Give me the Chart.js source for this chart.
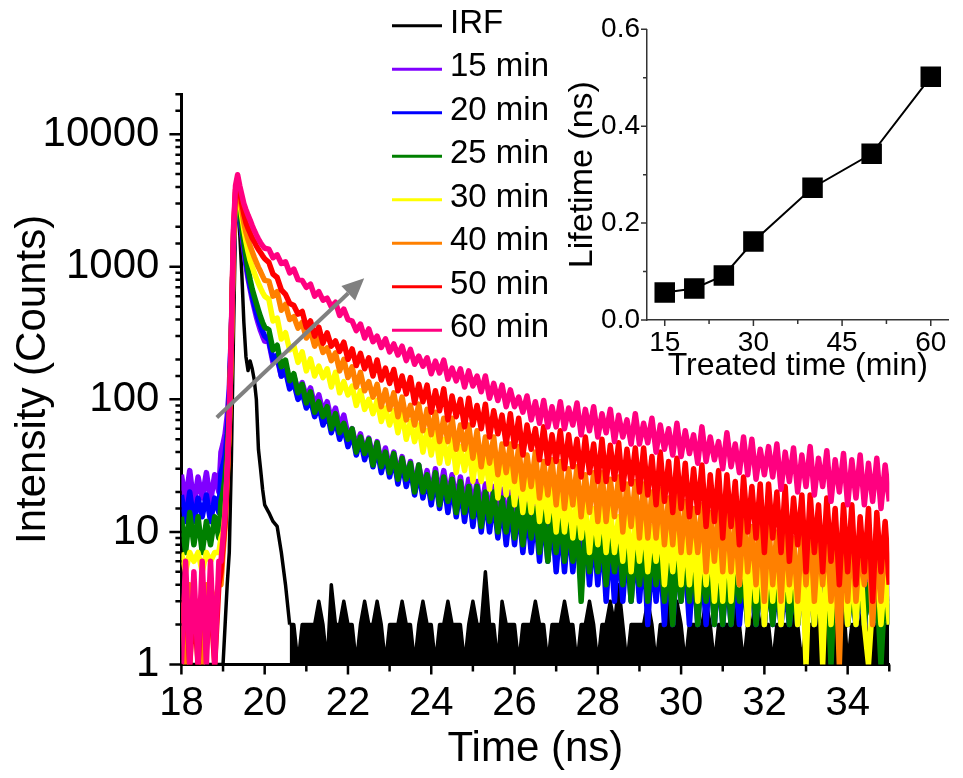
<!DOCTYPE html>
<html>
<head>
<meta charset="utf-8">
<title>Fluorescence decay</title>
<script src="https://cdn.jsdelivr.net/npm/chart.js@4.4.1/dist/chart.umd.min.js"></script>
<style>
    html, body { margin: 0; padding: 0; background: #fff; }
    #wrap { position: relative; width: 963px; height: 778px; }
    #mainChart { position: absolute; left: 0; top: 0; }
    #insetChart { position: absolute; left: 560px; top: 0; }
</style>
</head>
<body>
<div id="wrap">
    <canvas id="mainChart" width="963" height="778"></canvas>
    <canvas id="insetChart" width="403" height="390"></canvas>
</div>
<script>
// ====== Data ======
const timeNs = [
    18.0, 18.1, 18.2, 18.3, 18.4, 18.5, 18.6, 18.7, 18.8, 18.9,
    18.95, 19.0, 19.05, 19.1, 19.15, 19.2, 19.25, 19.3, 19.35, 19.4, 19.45,
    19.5, 19.55, 19.6, 19.65, 19.7, 19.75, 19.8, 19.85, 19.9, 19.95, 20.0,
    20.1, 20.2, 20.3, 20.4, 20.5, 20.6, 20.7, 20.8, 20.9, 21.0,
    21.1, 21.2, 21.3, 21.4, 21.5, 21.6, 21.7, 21.8, 21.9, 22.0,
    22.1, 22.2, 22.3, 22.4, 22.5, 22.6, 22.7, 22.8, 22.9, 23.0,
    23.1, 23.2, 23.3, 23.4, 23.5, 23.6, 23.7, 23.8, 23.9, 24.0,
    24.1, 24.2, 24.3, 24.4, 24.5, 24.6, 24.7, 24.8, 24.9, 25.0,
    25.1, 25.2, 25.3, 25.4, 25.5, 25.6, 25.7, 25.8, 25.9, 26.0,
    26.1, 26.2, 26.3, 26.4, 26.5, 26.6, 26.7, 26.8, 26.9, 27.0,
    27.1, 27.2, 27.3, 27.4, 27.5, 27.6, 27.7, 27.8, 27.9, 28.0,
    28.1, 28.2, 28.3, 28.4, 28.5, 28.6, 28.7, 28.8, 28.9, 29.0,
    29.1, 29.2, 29.3, 29.4, 29.5, 29.6, 29.7, 29.8, 29.9, 30.0,
    30.1, 30.2, 30.3, 30.4, 30.5, 30.6, 30.7, 30.8, 30.9, 31.0,
    31.1, 31.2, 31.3, 31.4, 31.5, 31.6, 31.7, 31.8, 31.9, 32.0,
    32.1, 32.2, 32.3, 32.4, 32.5, 32.6, 32.7, 32.8, 32.9, 33.0,
    33.1, 33.2, 33.3, 33.4, 33.5, 33.6, 33.7, 33.8, 33.9, 34.0,
    34.1, 34.2, 34.3, 34.4, 34.5, 34.6, 34.7, 34.8, 34.9, 35.0
];

// counts per channel (detector floor drawn at 1)
const irf = [
    1, 1, 1, 1, 1, 1, 1, 1, 1, 1,
    1, 1, 2, 4, 7, 35, 300, 2200, 3450, 1800, 900,
    380, 210, 165, 195, 170, 140, 100, 42, 30, 21, 16,
    14, 12, 11, 7, 4, 2, 2, 1, 2, 2,
    2, 2, 3, 2, 1, 4, 2, 2, 3, 2,
    2, 1, 2, 3, 2, 2, 3, 2, 1, 2,
    2, 2, 3, 2, 2, 1, 2, 3, 2, 2,
    1, 2, 2, 3, 2, 2, 2, 1, 2, 3,
    2, 2, 5, 2, 2, 1, 3, 2, 2, 2,
    1, 2, 2, 2, 3, 2, 2, 1, 2, 2,
    2, 3, 2, 2, 1, 2, 2, 3, 2, 1,
    2, 2, 3, 2, 4, 2, 1, 2, 2, 2,
    2, 3, 2, 1, 2, 2, 4, 2, 3, 2,
    1, 2, 2, 2, 2, 3, 2, 1, 2, 2,
    2, 2, 3, 2, 1, 2, 2, 3, 2, 2,
    2, 1, 2, 2, 2, 2, 3, 2, 1, 2,
    2, 2, 3, 1, 2, 2, 2, 2, 3, 1,
    2, 2, 2, 3, 1, 2, 2, 2, 2, 2
];

const min15 = [
    27, 17, 29, 16, 26, 18, 28, 17, 27, 20,
    40, 46, 55, 75, 120, 330, 1400, 3000, 3300, 2500, 1800,
    1350, 1020, 820, 680, 570, 490, 420, 370, 330, 300, 275,
    270, 190, 205, 150, 170, 126, 150, 116, 134, 104,
    122, 90, 108, 80, 96, 70, 86, 62, 76, 54,
    60, 44, 55, 40, 51, 36, 48, 33, 43, 30,
    40, 27, 37, 25, 34, 22, 32, 21, 29, 19,
    30, 19, 29, 18, 27, 17, 26, 16, 25, 15,
    24, 14, 23, 13, 22, 12, 21, 12, 20, 11,
    19, 10, 18, 10, 17, 9, 17, 9, 16, 8,
    15, 8, 14, 7, 14, 7, 13, 6, 13, 6,
    12, 5, 12, 5, 11, 5, 11, 5, 10, 4,
    10, 4, 9, 4, 9, 4, 9, 3, 8, 3,
    8, 3, 8, 3, 8, 3, 7, 3, 7, 3,
    7, 3, 7, 3, 7, 3, 6, 3, 6, 3,
    6, 3, 6, 3, 6, 3, 6, 3, 6, 3,
    6, 3, 6, 3, 5, 3, 5, 3, 5, 3,
    5, 3, 5, 3, 5, 3, 5, 3, 5, 3
];

const min20 = [
    19, 12, 20, 12, 18, 13, 19, 12, 18, 14,
    28, 32, 38, 55, 100, 320, 1450, 3100, 3400, 2600, 1900,
    1450, 1100, 880, 720, 610, 520, 450, 400, 360, 325, 300,
    280, 200, 215, 150, 165, 120, 134, 100, 114, 86,
    100, 74, 90, 64, 80, 56, 70, 50, 62, 44,
    56, 38, 50, 35, 46, 31, 43, 28, 38, 26,
    36, 23, 34, 22, 31, 19, 29, 18, 26, 16,
    26, 15, 25, 14, 23, 13, 22, 12, 21, 11,
    20, 10, 19, 10, 18, 9, 17, 8, 16, 8,
    16, 7, 15, 7, 14, 6, 14, 6, 13, 5,
    12, 5, 12, 5, 11, 4, 11, 4, 10, 4,
    10, 3, 9, 3, 9, 3, 8, 3, 8, 3,
    8, 2, 7, 3, 7, 2, 7, 2, 6, 4,
    6, 2, 6, 2, 6, 2, 6, 2, 5, 2,
    5, 2, 5, 2, 5, 2, 5, 2, 5, 2,
    5, 2, 4, 2, 4, 2, 4, 2, 4, 2,
    4, 2, 4, 2, 4, 2, 4, 2, 4, 2,
    4, 2, 4, 2, 4, 2, 4, 2, 4, 2
];

const min25 = [
    13, 7, 14, 8, 13, 7, 12, 8, 13, 9,
    17, 20, 26, 40, 80, 290, 1500, 3200, 3500, 2700, 2000,
    1550, 1200, 960, 800, 680, 600, 530, 470, 420, 380, 350,
    335, 236, 256, 176, 198, 138, 156, 112, 130, 94,
    114, 80, 96, 74, 88, 60, 78, 56, 66, 50,
    60, 40, 52, 39, 50, 32, 47, 31, 40, 28,
    39, 25, 36, 25, 33, 20, 32, 20, 27, 18,
    28, 16, 26, 17, 25, 14, 24, 14, 22, 13,
    22, 11, 20, 12, 20, 10, 18, 10, 18, 9,
    17, 8, 16, 9, 15, 7, 15, 6, 14, 7,
    13, 6, 12, 6, 12, 3, 11, 5, 10, 5,
    10, 4, 10, 5, 9, 4, 9, 3, 8, 4,
    8, 3, 8, 4, 7, 3, 7, 2, 7, 3,
    7, 3, 7, 2, 6, 3, 6, 2, 6, 2,
    6, 2, 6, 3, 5, 2, 6, 2, 5, 2,
    5, 2, 5, 2, 6, 2, 4, 2, 5, 2,
    5, 2, 4, 2, 5, 1, 5, 2, 4, 2,
    4, 2, 5, 2, 4, 2, 4, 1, 4, 2
];

const min30 = [
    7, 5, 7, 6, 7, 5, 7, 6, 7, 7,
    9, 10, 14, 28, 65, 270, 1600, 3400, 3900, 3100, 2400,
    1900, 1550, 1300, 1120, 1000, 900, 820, 750, 690, 640, 600,
    570, 390, 410, 285, 318, 236, 254, 190, 228, 164,
    202, 150, 178, 146, 170, 124, 160, 112, 136, 108,
    126, 90, 116, 84, 100, 78, 98, 68, 86, 64,
    82, 56, 78, 50, 68, 48, 64, 40, 58, 38,
    56, 33, 50, 33, 50, 28, 44, 29, 45, 24,
    42, 24, 38, 21, 38, 18, 34, 19, 32, 16,
    30, 14, 26, 14, 26, 12, 23, 12, 22, 10,
    21, 10, 19, 9, 18, 9, 17, 7, 15, 8,
    16, 7, 15, 7, 13, 6, 14, 5, 13, 6,
    13, 5, 11, 6, 12, 4, 10, 5, 11, 4,
    10, 4, 10, 3, 9, 4, 9, 3, 8, 3,
    10, 3, 9, 4, 9, 2, 8, 3, 9, 2,
    8, 3, 8, 2, 7, 3, 8, 2, 7, 1,
    7, 2, 6, 1, 7, 2, 6, 3, 6, 2,
    6, 2, 7, 2, 1, 3, 6, 2, 5, 2
];

const min40 = [
    3, 1, 4, 2, 3, 1, 4, 2, 3, 4,
    4, 7, 11, 25, 62, 280, 1650, 3600, 4300, 3400, 2700,
    2150, 1820, 1600, 1440, 1300, 1180, 1080, 990, 920, 850, 790,
    780, 600, 650, 470, 520, 400, 420, 345, 380, 290,
    330, 252, 290, 226, 244, 196, 224, 164, 200, 146,
    176, 124, 160, 116, 136, 104, 130, 88, 118, 84,
    112, 74, 104, 70, 90, 64, 92, 58, 84, 54,
    80, 48, 72, 48, 72, 42, 64, 42, 64, 36,
    58, 31, 52, 33, 52, 27, 46, 28, 46, 24,
    44, 21, 38, 22, 40, 18, 34, 19, 35, 16,
    34, 15, 30, 16, 31, 13, 27, 14, 28, 12,
    28, 12, 25, 13, 26, 10, 23, 11, 24, 9,
    23, 9, 20, 9, 21, 8, 18, 8, 19, 7,
    17, 7, 15, 7, 16, 5, 14, 6, 15, 5,
    15, 5, 13, 4, 14, 5, 11, 4, 13, 3,
    12, 4, 10, 3, 11, 4, 9, 3, 11, 4,
    11, 3, 9, 4, 10, 3, 8, 1, 10, 3,
    10, 3, 8, 4, 9, 2, 8, 3, 9, 4
];

const min50 = [
    2, 4, 1, 3, 1, 4, 2, 3, 1, 4,
    5, 8, 12, 27, 68, 300, 1750, 3800, 4500, 3700, 3000,
    2500, 2150, 1950, 1800, 1650, 1550, 1440, 1350, 1280, 1210, 1150,
    1080, 880, 830, 670, 620, 530, 510, 440, 460, 350,
    390, 300, 350, 265, 318, 252, 276, 230, 270, 200,
    240, 180, 222, 170, 206, 150, 198, 140, 172, 132,
    168, 116, 150, 110, 146, 94, 130, 96, 128, 80,
    116, 82, 120, 70, 106, 74, 100, 62, 102, 64,
    90, 60, 92, 52, 82, 55, 76, 46, 78, 44,
    72, 38, 64, 42, 60, 35, 62, 33, 54, 34,
    58, 30, 54, 31, 50, 26, 52, 28, 46, 24,
    50, 24, 45, 25, 47, 21, 42, 23, 43, 20,
    43, 19, 37, 16, 40, 17, 34, 14, 36, 15,
    33, 13, 30, 14, 32, 11, 27, 12, 29, 9,
    27, 11, 24, 8, 26, 10, 22, 9, 23, 7,
    23, 9, 20, 7, 22, 6, 18, 8, 19, 5,
    19, 7, 16, 5, 18, 6, 15, 4, 16, 5,
    16, 4, 13, 5, 15, 3, 14, 5, 12, 4
];

const min60 = [
    1, 6, 1, 5, 1, 6, 1, 6, 1, 6,
    6, 9, 14, 30, 75, 330, 1900, 4100, 4950, 4100, 3500,
    3000, 2700, 2450, 2250, 2050, 1880, 1740, 1620, 1520, 1440, 1380,
    1360, 1170, 1230, 1060, 1090, 900, 960, 800, 790, 700,
    740, 600, 650, 560, 580, 500, 540, 430, 480, 400,
    390, 330, 370, 290, 340, 272, 300, 246, 286, 228,
    262, 216, 252, 196, 238, 184, 212, 178, 206, 156,
    194, 158, 198, 142, 172, 138, 170, 124, 164, 126,
    150, 114, 150, 102, 132, 98, 128, 88, 118, 88,
    104, 80, 106, 70, 96, 66, 98, 62, 88, 62,
    96, 60, 86, 64, 94, 54, 84, 58, 88, 52,
    78, 56, 84, 48, 76, 52, 70, 46, 78, 46,
    66, 47, 72, 40, 64, 42, 60, 38, 66, 37,
    58, 39, 54, 33, 62, 34, 52, 35, 48, 30,
    56, 31, 46, 28, 52, 27, 50, 25, 42, 27,
    44, 26, 46, 21, 40, 24, 43, 20, 38, 22,
    44, 19, 36, 22, 41, 17, 35, 20, 39, 16,
    35, 18, 38, 16, 33, 17, 36, 15, 32, 17
];

const seriesLabels = ['IRF', '15 min', '20 min', '25 min', '30 min', '40 min', '50 min', '60 min'];
const seriesColors = ['#000000', '#8000ff', '#0000ff', '#008000', '#ffff00', '#ff8000', '#ff0000', '#ff0080'];
const seriesValues = [irf, min15, min20, min25, min30, min40, min50, min60];

const yTickLabels = [1, 10, 100, 1000, 10000];
const irfFloorFrom = 20.55; // past this time the IRF is just the noise floor, drawn as a solid block

// trend arrow, in data coordinates (time ns, counts)
const arrowFrom = { x: 18.85, y: 73 };
const arrowTo = { x: 22.39, y: 820 };

// inset: lifetime vs treated time
const treatedTime = [15, 20, 25, 30, 40, 50, 60];
const lifetimeNs = [0.057, 0.065, 0.092, 0.162, 0.273, 0.343, 0.502];
const insetXTicks = [15, 22.5, 30, 37.5, 45, 52.5, 60];
const insetYTicks = [0, 0.1, 0.2, 0.3, 0.4, 0.5, 0.6];

// ====== Defaults ======
const FONT = "'Liberation Sans', Arial, Helvetica, sans-serif";
Chart.defaults.font.family = FONT;
Chart.defaults.color = '#000';

// ====== Plugins ======
function isPow10(v) {
    const l = Math.log10(v);
    return Math.abs(l - Math.round(l)) < 1e-9;
}

function makeAxisTicks(opts) {
    return {
        id: 'axisTicks',
        afterDraw(chart) {
            const { ctx, chartArea: area, scales: { x, y } } = chart;
            ctx.save();
            ctx.strokeStyle = opts.color;
            ctx.lineWidth = opts.width;
            ctx.beginPath();
            for (const t of x.ticks) {
                const px = x.getPixelForValue(t.value);
                const len = opts.xMajor(t.value) ? opts.xLong : opts.xShort;
                ctx.moveTo(px, area.bottom);
                ctx.lineTo(px, area.bottom + len);
            }
            for (const t of y.ticks) {
                const py = y.getPixelForValue(t.value);
                const len = opts.yMajor(t.value) ? opts.yLong : opts.yShort;
                ctx.moveTo(area.left, py);
                ctx.lineTo(area.left - len, py);
            }
            ctx.stroke();
            ctx.restore();
        }
    };
}

const trendArrow = {
    id: 'trendArrow',
    afterDatasetsDraw(chart) {
        const { ctx, scales: { x, y } } = chart;
        const x0 = x.getPixelForValue(arrowFrom.x), y0 = y.getPixelForValue(arrowFrom.y);
        const x1 = x.getPixelForValue(arrowTo.x), y1 = y.getPixelForValue(arrowTo.y);
        const ang = Math.atan2(y1 - y0, x1 - x0);
        const head = 22, half = 10;
        const bx = x1 - head * Math.cos(ang), by = y1 - head * Math.sin(ang);
        ctx.save();
        ctx.strokeStyle = '#808080';
        ctx.fillStyle = '#808080';
        ctx.lineWidth = 4;
        ctx.beginPath();
        ctx.moveTo(x0, y0);
        ctx.lineTo(bx, by);
        ctx.stroke();
        ctx.beginPath();
        ctx.moveTo(x1, y1);
        ctx.lineTo(bx + half * Math.sin(ang), by - half * Math.cos(ang));
        ctx.lineTo(bx - half * Math.sin(ang), by + half * Math.cos(ang));
        ctx.closePath();
        ctx.fill();
        ctx.restore();
    }
};

// legend sits above the plot area, so draw it ourselves
const sideLegend = {
    id: 'sideLegend',
    afterDraw(chart) {
        const ctx = chart.ctx;
        ctx.save();
        ctx.font = '33px ' + FONT;
        ctx.textBaseline = 'middle';
        ctx.fillStyle = '#000';
        seriesLabels.forEach((label, i) => {
            const y = 25.7 + i * 43.5;
            ctx.strokeStyle = seriesColors[i];
            ctx.lineWidth = 3;
            ctx.beginPath();
            ctx.moveTo(392, y);
            ctx.lineTo(442, y);
            ctx.stroke();
            ctx.fillText(label, 450, y - 2);
        });
        ctx.restore();
    }
};

// ====== Main chart ======
const mainChart = new Chart(document.getElementById('mainChart'), {
    type: 'line',
    data: {
        datasets: seriesValues.map((vals, i) => {
            const ds = {
                label: seriesLabels[i],
                data: timeNs.map((t, k) => ({ x: t, y: vals[k] })),
                borderColor: seriesColors[i],
                borderWidth: i === 0 ? 3.5 : 5.5,
                borderJoinStyle: 'round',
                pointRadius: 0,
                tension: 0,
                order: seriesValues.length - i
            };
            if (i === 0) {
                ds.fill = 'start';
                ds.backgroundColor = 'rgba(0,0,0,0)';
                ds.segment = {
                    backgroundColor: (ctx) => (ctx.p0.parsed.x >= irfFloorFrom ? '#000' : 'rgba(0,0,0,0)')
                };
            }
            return ds;
        })
    },
    options: {
        responsive: false,
        animation: false,
        layout: { padding: { left: 0, right: 73.7, top: 94.3, bottom: 0 } },
        plugins: { legend: { display: false }, tooltip: { enabled: false } },
        scales: {
            x: {
                type: 'linear',
                min: 18,
                max: 35,
                afterFit: (s) => { s.height = 113.5; },
                border: { display: true, color: '#000', width: 3 },
                grid: { display: false, drawTicks: false },
                ticks: {
                    stepSize: 1,
                    autoSkip: false,
                    maxRotation: 0,
                    padding: 15,
                    font: { size: 40 },
                    callback: (v) => (v % 2 === 0 ? String(v) : '')
                },
                title: { display: true, text: 'Time (ns)', font: { size: 42 }, padding: { top: 0, bottom: 3 } }
            },
            y: {
                type: 'logarithmic',
                min: 1,
                max: 20000,
                afterFit: (s) => { s.width = 181.4; },
                border: { display: true, color: '#000', width: 3 },
                grid: { display: false, drawTicks: false },
                ticks: {
                    autoSkip: false,
                    padding: 22,
                    font: { size: 42 },
                    callback: (v) => (yTickLabels.some(l => Math.abs(l - v) < 1e-6 * l) ? String(v) : '')
                },
                title: { display: true, text: 'Intensity (Counts)', font: { size: 42 }, padding: { top: 8, bottom: 0 } }
            }
        }
    },
    plugins: [
        trendArrow,
        makeAxisTicks({
            color: '#000', width: 2.5,
            xLong: 10, xShort: 7, xMajor: (v) => v % 2 === 0,
            yLong: 12, yShort: 6, yMajor: isPow10
        }),
        sideLegend
    ]
});

// ====== Inset chart ======
const insetChart = new Chart(document.getElementById('insetChart'), {
    type: 'line',
    data: {
        datasets: [{
            label: 'Lifetime',
            data: treatedTime.map((t, i) => ({ x: t, y: lifetimeNs[i] })),
            borderColor: '#000',
            borderWidth: 2,
            pointStyle: 'rect',
            pointRadius: 14.5,
            pointBackgroundColor: '#000',
            pointBorderColor: '#000',
            pointBorderWidth: 0,
            tension: 0
        }]
    },
    options: {
        responsive: false,
        animation: false,
        layout: { padding: { left: 0, right: 3, top: 29.3, bottom: 0 } },
        plugins: { legend: { display: false }, tooltip: { enabled: false } },
        scales: {
            x: {
                type: 'linear',
                min: 12,
                max: 63,
                afterFit: (s) => { s.height = 70; },
                afterBuildTicks: (s) => { s.ticks = insetXTicks.map(v => ({ value: v })); },
                border: { display: true, color: '#333', width: 1.5 },
                grid: { display: false, drawTicks: false },
                ticks: {
                    autoSkip: false,
                    maxRotation: 0,
                    padding: 6,
                    font: { size: 28 },
                    callback: (v) => (v % 15 === 0 ? String(v) : '')
                },
                title: { display: true, text: 'Treated time (min)', font: { size: 32 }, padding: { top: 0, bottom: 5 } }
            },
            y: {
                type: 'linear',
                min: 0,
                max: 0.6,
                afterFit: (s) => { s.width = 87; },
                afterBuildTicks: (s) => { s.ticks = insetYTicks.map(v => ({ value: v })); },
                border: { display: true, color: '#333', width: 1.5 },
                grid: { display: false, drawTicks: false },
                ticks: {
                    autoSkip: false,
                    padding: 7,
                    font: { size: 28 },
                    callback: (v) => (Math.round(v * 10) % 2 === 0 ? v.toFixed(1) : '')
                },
                title: { display: true, text: 'Lifetime (ns)', font: { size: 34 }, padding: { top: 2, bottom: 0 } }
            }
        }
    },
    plugins: [
        makeAxisTicks({
            color: '#333', width: 1.5,
            xLong: 6, xShort: 4, xMajor: (v) => v % 15 === 0,
            yLong: 6, yShort: 4, yMajor: (v) => Math.round(v * 10) % 2 === 0
        })
    ]
});
</script>
</body>
</html>
